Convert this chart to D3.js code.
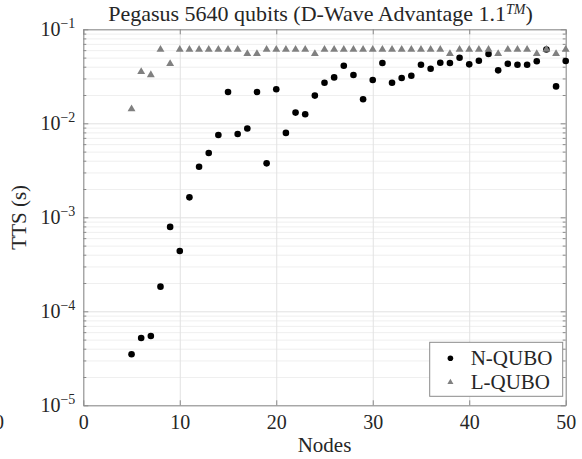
<!DOCTYPE html>
<html>
<head>
<meta charset="utf-8">
<script src="https://cdn.jsdelivr.net/npm/d3@7"></script>
<style>
  body { margin: 0; background: #fff; }
  text { font-family: "Liberation Serif", serif; fill: #262626; }
</style>
</head>
<body>
<svg id="chart" width="582" height="459"></svg>
<script>
// node counts on the x axis
const nodes = [5, 6, 7, 8, 9, 10, 11, 12, 13, 14, 15, 16, 17, 18, 19, 20, 21, 22, 23, 24, 25, 26, 27,
  28, 29, 30, 31, 32, 33, 34, 35, 36, 37, 38, 39, 40, 41, 42, 43, 44, 45, 46, 47, 48, 49, 50];

// time to solution (s)
const nQubo = [3.49e-5, 5.2e-5, 5.46e-5, 1.83e-4, 7.9e-4, 4.38e-4, 1.63e-3, 3.45e-3, 4.83e-3, 7.5e-3,
  2.15e-2, 7.7e-3, 8.8e-3, 2.15e-2, 3.75e-3, 2.3e-2, 7.9e-3, 1.3e-2, 1.25e-2, 1.97e-2,
  2.7e-2, 3.08e-2, 4.1e-2, 3.27e-2, 1.8e-2, 2.89e-2, 4.38e-2, 2.7e-2, 3.03e-2, 3.21e-2,
  4.2e-2, 3.81e-2, 4.41e-2, 4.38e-2, 4.99e-2, 4.24e-2, 4.63e-2, 5.46e-2, 3.66e-2, 4.3e-2,
  4.2e-2, 4.2e-2, 4.57e-2, 6.1e-2, 2.47e-2, 4.6e-2];

const lQubo = [1.42e-2, 3.54e-2, 3.27e-2, 6.1e-2, 4.3e-2, 6.1e-2, 6.1e-2, 6.1e-2, 6.1e-2, 6.1e-2,
  6.1e-2, 6.1e-2, 5.5e-2, 5.5e-2, 6.1e-2, 6.1e-2, 6.1e-2, 6.1e-2, 6.1e-2, 5.5e-2,
  6.1e-2, 6.1e-2, 6.1e-2, 6.1e-2, 6.1e-2, 6.1e-2, 6.1e-2, 6.1e-2, 6.1e-2, 6.1e-2,
  6.1e-2, 6.1e-2, 6.1e-2, 5.5e-2, 6.1e-2, 6.1e-2, 6.1e-2, 6.1e-2, 5.5e-2, 6.1e-2,
  6.1e-2, 6.1e-2, 5.5e-2, 6.1e-2, 5.5e-2, 6.1e-2];

const xTicks = [0, 10, 20, 30, 40, 50];
const yTicks = [1e-5, 1e-4, 1e-3, 1e-2, 1e-1];
const yExponents = ['\u22125', '\u22124', '\u22123', '\u22122', '\u22121'];
const seriesNames = ['N-QUBO', 'L-QUBO'];

const margin = { top: 29.3, left: 83.3 };
const width = 482.4;
const height = 376;

const svg = d3.select('#chart');
const g = svg.append('g')
  .attr('transform', `translate(${margin.left},${margin.top})`);

const x = d3.scaleLinear().domain([0, 50]).range([0, width]);
const y = d3.scaleLog().domain([1e-5, 1e-1]).range([height, 0]);

// minor log ticks 2..9 in every decade
const minorTicks = [];
yTicks.slice(0, -1).forEach(d => {
  for (let k = 2; k <= 9; k++) minorTicks.push(d * k);
});

// grid lines
g.append('g')
  .call(d3.axisLeft(y).tickValues(minorTicks).tickSize(-width).tickFormat(''))
  .call(a => a.select('.domain').remove())
  .selectAll('line').attr('stroke', '#efefef');
g.append('g')
  .call(d3.axisLeft(y).tickValues(yTicks).tickSize(-width).tickFormat(''))
  .call(a => a.select('.domain').remove())
  .selectAll('line').attr('stroke', '#e2e2e2');
g.append('g')
  .attr('transform', `translate(0,${height})`)
  .call(d3.axisBottom(x).tickValues(xTicks).tickSize(-height).tickFormat(''))
  .call(a => a.select('.domain').remove())
  .selectAll('line').attr('stroke', '#e2e2e2');

// frame + inward ticks
const axisColor = '#8a8a8a';
const styleAxis = sel => {
  sel.select('.domain').attr('stroke', axisColor);
  sel.selectAll('.tick line').attr('stroke', axisColor);
};

const xAxis = g.append('g')
  .attr('transform', `translate(0,${height})`)
  .call(d3.axisBottom(x).tickValues(xTicks).tickSizeInner(-5).tickSizeOuter(0).tickFormat(d3.format('d')))
  .call(styleAxis);
xAxis.selectAll('.tick text')
  .attr('y', 24)
  .attr('dy', 0)
  .attr('font-size', 20)
  .attr('fill', '#262626');

g.append('g')
  .call(d3.axisTop(x).tickValues(xTicks).tickSizeInner(-5).tickSizeOuter(0).tickFormat(''))
  .call(styleAxis);

const yAxis = g.append('g')
  .call(d3.axisLeft(y).tickValues(yTicks).tickSizeInner(-5).tickSizeOuter(0).tickFormat(''))
  .call(styleAxis);
yAxis.selectAll('.tick').each(function (d, i) {
  const t = d3.select(this).append('text')
    .attr('x', -8)
    .attr('y', 6)
    .attr('text-anchor', 'end')
    .attr('font-size', 20)
    .attr('fill', '#262626');
  t.append('tspan').text('10');
  t.append('tspan').attr('dy', -8).attr('font-size', 14).text(yExponents[i]);
});
g.append('g')
  .call(d3.axisLeft(y).tickValues(minorTicks).tickSize(-3).tickFormat(''))
  .call(styleAxis)
  .select('.domain').remove();

g.append('g')
  .attr('transform', `translate(${width},0)`)
  .call(d3.axisRight(y).tickValues(yTicks).tickSizeInner(-5).tickSizeOuter(0).tickFormat(''))
  .call(styleAxis);
g.append('g')
  .attr('transform', `translate(${width},0)`)
  .call(d3.axisRight(y).tickValues(minorTicks).tickSize(-3).tickFormat(''))
  .call(styleAxis)
  .select('.domain').remove();

// points
const nPts = nodes.map((n, i) => ({ n, v: nQubo[i] }));
const lPts = nodes.map((n, i) => ({ n, v: lQubo[i] }));

g.append('g').selectAll('circle')
  .data(nPts)
  .enter()
  .append('circle')
  .attr('cx', d => x(d.n))
  .attr('cy', d => y(d.v))
  .attr('r', 3.3)
  .attr('fill', '#000');

const tri = d3.symbol().type(d3.symbolTriangle).size(27);
g.append('g').selectAll('path')
  .data(lPts)
  .enter()
  .append('path')
  .attr('d', tri)
  .attr('transform', d => `translate(${x(d.n)},${y(d.v)})`)
  .attr('fill', '#808080');

// labels
svg.append('text')
  .attr('x', margin.left + width / 2)
  .attr('y', 452)
  .attr('text-anchor', 'middle')
  .attr('font-size', 21)
  .text('Nodes');

svg.append('text')
  .attr('transform', `translate(26,${margin.top + height / 2}) rotate(-90)`)
  .attr('text-anchor', 'middle')
  .attr('font-size', 21)
  .text('TTS (s)');

const title = svg.append('text')
  .attr('x', margin.left + width / 2 - 4)
  .attr('y', 21)
  .attr('text-anchor', 'middle')
  .attr('font-size', 22);
title.append('tspan').text('Pegasus 5640 qubits (D-Wave Advantage 1.1');
title.append('tspan').attr('dy', -7).attr('font-size', 14).attr('font-style', 'italic').text('TM');
title.append('tspan').attr('dy', 7).text(')');

// clipped tick label from the neighbouring panel
svg.append('text')
  .attr('x', -1)
  .attr('y', margin.top + height + 24)
  .attr('text-anchor', 'middle')
  .attr('font-size', 20)
  .text('0');

// legend
const legend = g.append('g')
  .attr('transform', `translate(${width - 136},${height - 63})`);
legend.append('rect')
  .attr('width', 133)
  .attr('height', 54)
  .attr('fill', '#fff')
  .attr('stroke', axisColor);
legend.append('circle')
  .attr('cx', 20.7)
  .attr('cy', 16)
  .attr('r', 2.8)
  .attr('fill', '#000');
legend.append('path')
  .attr('d', d3.symbol().type(d3.symbolTriangle).size(16))
  .attr('transform', 'translate(20.7,40)')
  .attr('fill', '#808080');
legend.selectAll('.lbl')
  .data(seriesNames)
  .enter()
  .append('text')
  .attr('class', 'lbl')
  .attr('x', 41)
  .attr('y', (d, i) => 23 + i * 24)
  .attr('font-size', 21)
  .text(d => d);
</script>
</body>
</html>
